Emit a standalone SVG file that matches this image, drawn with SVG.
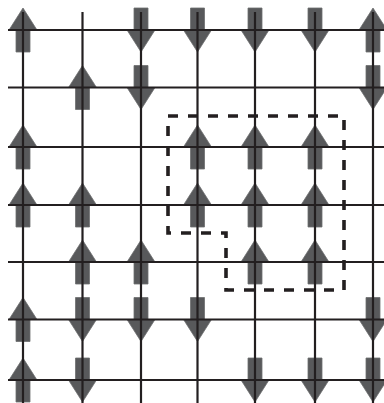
<svg xmlns="http://www.w3.org/2000/svg" width="384" height="403" viewBox="0 0 384 403">
<style>
.arrow{fill:#58595b;stroke:#6d6e70;stroke-width:0.8}
.grid line{stroke:#231f20;stroke-width:2.2}
.dash{fill:none;stroke:#231f20;stroke-width:3.6;stroke-dasharray:10 10}
</style>
<defs>
<path id="up" d="M0,-22 L14,0 L7,0 L7,22 L-7,22 L-7,0 L-14,0 Z"/>
<path id="down" d="M0,22 L14,0 L7,0 L7,-22 L-7,-22 L-7,0 L-14,0 Z"/>
</defs>
<rect width="384" height="403" fill="#fff"/>
<g id="spins" class="arrow">
<use href="#up" x="23" y="30"/><use href="#down" x="141" y="30"/><use href="#down" x="197.5" y="30"/><use href="#down" x="255" y="30"/><use href="#down" x="315" y="30"/><use href="#up" x="373" y="30"/>
<use href="#up" x="82.5" y="87.5"/><use href="#down" x="141" y="87.5"/><use href="#down" x="373" y="87.5"/>
<use href="#up" x="23" y="147"/><use href="#up" x="197.5" y="147"/><use href="#up" x="255" y="147"/><use href="#up" x="315" y="147"/>
<use href="#up" x="23" y="205"/><use href="#up" x="82.5" y="205"/><use href="#up" x="197.5" y="205"/><use href="#up" x="255" y="205"/><use href="#up" x="315" y="205"/>
<use href="#up" x="82.5" y="262"/><use href="#up" x="141" y="262"/><use href="#up" x="255" y="262"/><use href="#up" x="315" y="262"/>
<use href="#up" x="23" y="319.5"/><use href="#down" x="82.5" y="319.5"/><use href="#down" x="141" y="319.5"/><use href="#down" x="197.5" y="319.5"/><use href="#down" x="373" y="319.5"/>
<use href="#up" x="23" y="380"/><use href="#down" x="82.5" y="380"/><use href="#down" x="255" y="380"/><use href="#down" x="315" y="380"/><use href="#down" x="373" y="380"/>
</g>
<g id="grid" class="grid">
<line x1="8" y1="30" x2="384" y2="30"/>
<line x1="8" y1="87.5" x2="384" y2="87.5"/>
<line x1="8" y1="147" x2="384" y2="147"/>
<line x1="8" y1="205" x2="384" y2="205"/>
<line x1="8" y1="262" x2="384" y2="262"/>
<line x1="8" y1="319.5" x2="384" y2="319.5"/>
<line x1="8" y1="380" x2="384" y2="380"/>
<line x1="23" y1="12" x2="23" y2="403"/>
<line x1="82.5" y1="12" x2="82.5" y2="403"/>
<line x1="141" y1="12" x2="141" y2="403"/>
<line x1="197.5" y1="12" x2="197.5" y2="403"/>
<line x1="255" y1="12" x2="255" y2="403"/>
<line x1="315" y1="12" x2="315" y2="403"/>
<line x1="373" y1="12" x2="373" y2="403"/>
</g>
<g id="cluster">
<path class="dash" d="M168,116 H344 V290 H226 V233 H168 Z"/>
</g>
</svg>
